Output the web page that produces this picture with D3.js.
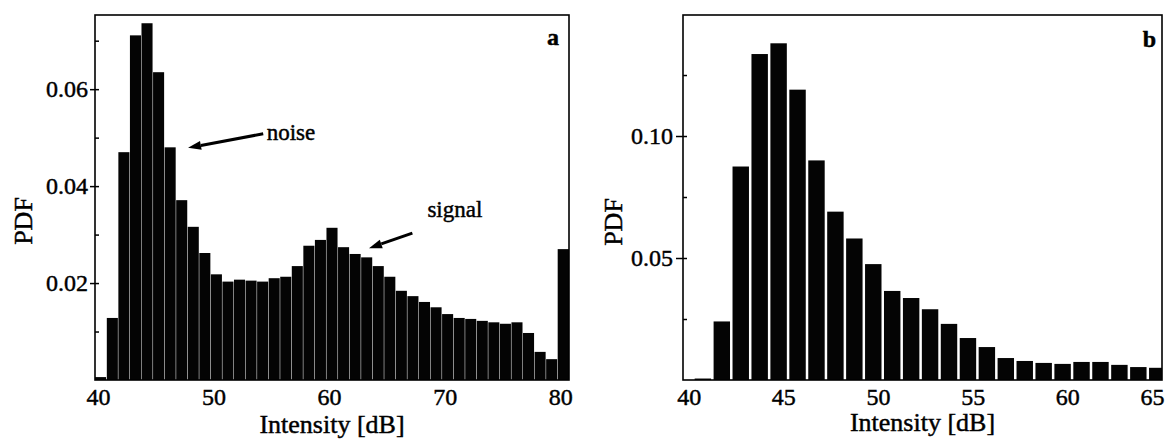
<!DOCTYPE html>
<html>
<head>
<meta charset="utf-8">
<script src="https://cdn.jsdelivr.net/npm/d3@7"></script>
<style>
body { margin: 0; background: #fff; }
svg text { font-family: "Liberation Serif", "Times New Roman", serif; fill: #000; stroke: #000; stroke-width: 0.45px; }
</style>
</head>
<body>
<svg id="chart" width="1172" height="440"></svg>
<script>
// bin centres [dB] and PDF values
const intensityA = [40.25, 41.25, 42.25, 43.25, 44.25, 45.25, 46.25, 47.25, 48.25, 49.25,
	50.25, 51.25, 52.25, 53.25, 54.25, 55.25, 56.25, 57.25, 58.25, 59.25,
	60.25, 61.25, 62.25, 63.25, 64.25, 65.25, 66.25, 67.25, 68.25, 69.25,
	70.25, 71.25, 72.25, 73.25, 74.25, 75.25, 76.25, 77.25, 78.25, 79.25, 80.25]
const pdfA = [0.0006, 0.0128, 0.047, 0.0711, 0.0736, 0.0635, 0.048, 0.0371, 0.0316, 0.0262,
	0.0218, 0.0203, 0.0207, 0.0205, 0.0203, 0.021, 0.0213, 0.0235, 0.0277, 0.0289,
	0.0314, 0.0274, 0.026, 0.0253, 0.0235, 0.0213, 0.0184, 0.0173, 0.0161, 0.015,
	0.0136, 0.0128, 0.0126, 0.0122, 0.0119, 0.0116, 0.0119, 0.0097, 0.0058, 0.0043, 0.027]

const intensityB = [40.75, 41.75, 42.75, 43.75, 44.75, 45.75, 46.75, 47.75, 48.75, 49.75,
	50.75, 51.75, 52.75, 53.75, 54.75, 55.75, 56.75, 57.75, 58.75, 59.75,
	60.75, 61.75, 62.75, 63.75, 64.75]
const pdfB = [0.0006, 0.024, 0.0875, 0.1336, 0.138, 0.119, 0.09, 0.069, 0.058, 0.0475,
	0.0365, 0.0336, 0.029, 0.023, 0.0172, 0.0135, 0.009, 0.0078, 0.007, 0.0066,
	0.0074, 0.0074, 0.0062, 0.0053, 0.005]

const xTicksA = [40, 50, 60, 70, 80]
const yTicksA = [0.02, 0.04, 0.06]
const yMinorA = [0.01, 0.03, 0.05, 0.07]

const xTicksB = [40, 45, 50, 55, 60, 65]
const yTicksB = [0.05, 0.10]
const yMinorB = [0.025, 0.075, 0.125]

const binWidth = 1;

const svg = d3.select('#chart')

function drawPanel(cfg) {

	const g = svg.append('g')
	.attr('transform', `translate(${cfg.left},${cfg.top})`)

	const x = d3.scaleLinear()
	.domain(cfg.xDomain)
	.range([0, cfg.width]);

	const y = d3.scaleLinear()
	.domain(cfg.yDomain)
	.range([cfg.height, 0]);

	const bars = cfg.bins.map((b, i) => ({
		x0: Math.max(b - binWidth / 2, cfg.xDomain[0]),
		x1: Math.min(b + binWidth / 2, cfg.xDomain[1]),
		v: cfg.values[i]
	}))

	g.selectAll('.bar')
	.data(bars)
	.enter()
	.append('rect')
	.attr('class', 'bar')
	.attr('x', d => x(d.x0) + (d.x0 > cfg.xDomain[0] ? cfg.gap / 2 : 0))
	.attr('width', d => Math.max(0, x(d.x1) - x(d.x0) - (d.x1 < cfg.xDomain[1] ? cfg.gap : cfg.gap / 2)))
	.attr('y', d => y(d.v))
	.attr('height', d => cfg.height - y(d.v))
	.attr('fill', '#040404')

	// inward minor + major ticks
	g.append('g')
	.call(d3.axisLeft(y).tickValues(cfg.yMinor.concat(cfg.yTicks)).tickSize(-4).tickFormat(''))
	.call(a => a.select('.domain').remove())
	.call(a => a.selectAll('line').attr('stroke', '#000').attr('stroke-width', 1.5))

	g.append('g')
	.call(d3.axisLeft(y).tickValues(cfg.yTicks).tickSize(cfg.outTick).tickPadding(cfg.pad).tickFormat(d3.format('.2f')))
	.call(a => a.select('.domain').remove())
	.call(a => a.selectAll('line').attr('stroke', '#000').attr('stroke-width', 1.5))
	.call(a => a.selectAll('text').attr('font-size', 24).attr('font-family', '"Liberation Serif", serif').attr('fill', '#000'))

	const xAxis = g.append('g')
	.attr('transform', `translate(0,${cfg.height})`)
	.call(d3.axisBottom(x).tickValues(cfg.xTicks).tickSize(0).tickPadding(8).tickFormat(d3.format('d')))
	.call(a => a.select('.domain').remove())
	.call(a => a.selectAll('text').attr('font-size', 24).attr('font-family', '"Liberation Serif", serif').attr('fill', '#000'))

	// last label squeezed in against the frame, as in the scan
	if (cfg.lastLabelEnd) {
		xAxis.selectAll('.tick')
		.filter(d => d === cfg.xTicks[cfg.xTicks.length - 1])
		.select('text')
		.attr('text-anchor', 'end')
		.attr('x', 2)
	}

	g.append('rect')
	.attr('width', cfg.width)
	.attr('height', cfg.height)
	.attr('fill', 'none')
	.attr('stroke', '#000')
	.attr('stroke-width', 1.6)

	g.append('text')
	.attr('transform', `translate(${cfg.pdfX},${cfg.pdfY}) rotate(-90)`)
	.attr('text-anchor', 'middle')
	.attr('font-size', 26)
	.text('PDF')

	g.append('text')
	.attr('x', cfg.width / 2)
	.attr('y', cfg.titleY)
	.attr('text-anchor', 'middle')
	.attr('font-size', 26)
	.text('Intensity [dB]')

	g.append('text')
	.attr('x', cfg.width - cfg.letterDx)
	.attr('y', cfg.letterY)
	.attr('text-anchor', 'end')
	.attr('font-size', 24)
	.attr('font-weight', 'bold')
	.text(cfg.letter)

	return {g, x, y}
}

function arrow(p, note) {
	const tx = p.x(note.tail[0]), ty = p.y(note.tail[1])
	const hx = p.x(note.head[0]), hy = p.y(note.head[1])
	const ang = Math.atan2(hy - ty, hx - tx)
	const len = 13, half = 4.5
	const bx = hx - len * Math.cos(ang), by = hy - len * Math.sin(ang)

	p.g.append('line')
	.attr('x1', tx).attr('y1', ty)
	.attr('x2', bx).attr('y2', by)
	.attr('stroke', '#000')
	.attr('stroke-width', 3)

	p.g.append('path')
	.attr('d', d3.line()([
		[hx, hy],
		[bx - half * Math.sin(ang), by + half * Math.cos(ang)],
		[bx + half * Math.sin(ang), by - half * Math.cos(ang)]
	]) + 'Z')
	.attr('fill', '#000')

	p.g.append('text')
	.attr('x', p.x(note.textAt[0]))
	.attr('y', p.y(note.textAt[1]))
	.attr('font-size', 23)
	.text(note.label)
}

const panelA = drawPanel({
	left: 95, top: 15, width: 474, height: 365,
	xDomain: [39.75, 80.75], yDomain: [0, 0.0753],
	bins: intensityA, values: pdfA, gap: 0.5,
	xTicks: xTicksA, yTicks: yTicksA, yMinor: yMinorA,
	outTick: 5, pad: 2,
	pdfX: -63, pdfY: 206, titleY: 418,
	letter: 'a', letterDx: 10, letterY: 30
})

const panelB = drawPanel({
	left: 683, top: 15, width: 479, height: 365,
	xDomain: [39.7, 65.0], yDomain: [0, 0.1496],
	bins: intensityB, values: pdfB, gap: 2.5,
	xTicks: xTicksB, yTicks: yTicksB, yMinor: yMinorB,
	outTick: 7, pad: 3,
	pdfX: -61, pdfY: 207, titleY: 416,
	letter: 'b', letterDx: 6, letterY: 32,
	lastLabelEnd: true
})

arrow(panelA, {label: 'noise', tail: [54.3, 0.0508], head: [47.8, 0.0479], textAt: [54.6, 0.0495]})
arrow(panelA, {label: 'signal', tail: [67.2, 0.0303], head: [63.45, 0.0272], textAt: [68.5, 0.0336]})
</script>
</body>
</html>
